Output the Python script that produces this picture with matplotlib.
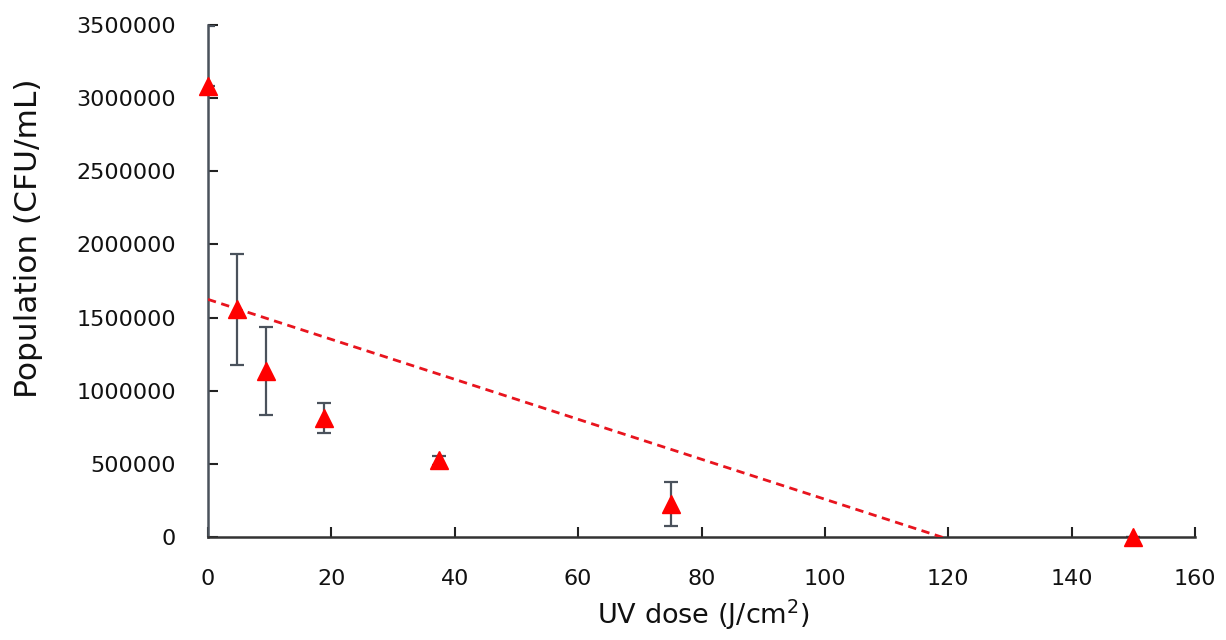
import numpy as np
import matplotlib
matplotlib.use("Agg")
import matplotlib.pyplot as plt

# Data
uv_dose = [0, 4.6875, 9.375, 18.75, 37.5, 75, 150]
population = [3080000, 1556000, 1133000, 814000, 525000, 228000, 0]
err_upper = [410000, 380000, 300000, 105000, 30000, 150000, 0]
err_lower = [0, 380000, 300000, 105000, 30000, 150000, 0]
x_ticks = [0, 20, 40, 60, 80, 100, 120, 140, 160]
y_ticks = [0, 500000, 1000000, 1500000, 2000000, 2500000, 3000000, 3500000]

plt.rcParams['font.family'] = ['DejaVu Sans']

fig = plt.figure(figsize=(12.26, 6.4), dpi=100)
ax = fig.add_axes([208/1226, 1-537/640, (1195-208)/1226, (537-25)/640])

ax.errorbar(uv_dose, population, yerr=[err_lower, err_upper], fmt='none',
            ecolor='#4a525c', elinewidth=1.6, capsize=5, capthick=1.6, zorder=2)
ax.plot(uv_dose, population, linestyle='none', marker='^', markersize=13,
        color='#ff0000', zorder=4, clip_on=False)

# Linear trendline computed from the data
coef = np.polyfit(uv_dose, population, 1)
xs = np.array([0, 150])
ax.plot(xs, np.polyval(coef, xs), linestyle=(0, (3, 2)), color='#e8141e',
        linewidth=2, zorder=3)

ax.set_xlim(0, 160)
ax.set_ylim(0, 3500000)
ax.set_xticks(x_ticks)
ax.set_yticks(y_ticks)
ax.set_xticklabels([str(t) for t in x_ticks])
ax.set_yticklabels([str(t) for t in y_ticks])

for s in ['top', 'right']:
    ax.spines[s].set_visible(False)
ax.spines['left'].set_color('#4a525c')
ax.spines['left'].set_linewidth(1.8)
ax.spines['bottom'].set_color('#333333')
ax.spines['bottom'].set_linewidth(1.8)

ax.tick_params(axis='x', direction='in', length=7, width=1.5, color='#222222',
               labelsize=16, pad=23, labelcolor='#111111')
ax.tick_params(axis='y', direction='in', length=7, width=1.5, color='#222222',
               labelsize=16, pad=23, labelcolor='#111111')

ax.set_xlabel('UV dose (J/cm$^2$)', fontsize=19.5, color='#111111')
ax.set_ylabel('Population (CFU/mL)', fontsize=22.5, color='#111111')
ax.xaxis.set_label_coords((703-208)/(1195-208), -(615-537)/(537-25))
ax.yaxis.set_label_coords(-(208-28)/(1195-208), (537-238)/(537-25))
ax.xaxis.label.set_va('center')
ax.yaxis.label.set_va('center')

fig.savefig('out.png', dpi=100)
